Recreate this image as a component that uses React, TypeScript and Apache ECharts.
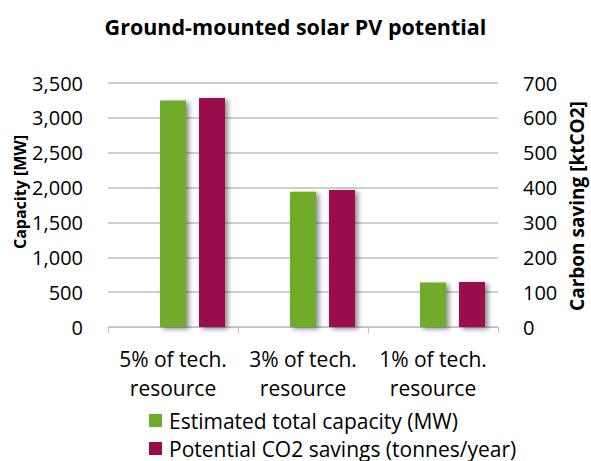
import React, { useEffect, useRef } from "react";
import * as echarts from "echarts";

const categories = ["5% of tech.\nresource", "3% of tech.\nresource", "1% of tech.\nresource"];
const capacityMW = [3250, 1940, 640];
const co2Savings = [657, 393, 129];
const leftTicks = [0, 3500, 500];
const rightTicks = [0, 700, 100];
const seriesNames = ["Estimated total capacity (MW)", "Potential CO2 savings (tonnes/year)"];

const FONT = "'Open Sans', sans-serif";

export default function App() {
  const ref = useRef<HTMLDivElement>(null);
  useEffect(() => {
    document.body.style.margin = "0";
    const chart = echarts.init(ref.current!, null, { renderer: "svg" });
    const shadow = {
      shadowColor: "rgba(0,0,0,0.45)",
      shadowBlur: 5,
      shadowOffsetX: 3,
      shadowOffsetY: 2,
    };
    const legendBase = {
      orient: "horizontal",
      left: 149,
      padding: 0,
      icon: "rect",
      itemWidth: 13,
      itemHeight: 13,
      textStyle: { fontFamily: FONT, fontSize: 21, color: "#000", padding: [0, 0, 0, 2] },
    };
    chart.setOption({
      animation: false,
      backgroundColor: "#ffffff",
      textStyle: { fontFamily: FONT },
      title: {
        text: "Ground-mounted solar PV potential",
        left: "center",
        top: 10,
        textStyle: { fontFamily: FONT, fontSize: 21.5, fontWeight: "bold", color: "#000" },
      },
      grid: { left: 108, right: 93, top: 83, bottom: 134 },
      legend: [
        { ...legendBase, top: 410, data: [seriesNames[0]] },
        { ...legendBase, top: 438, data: [seriesNames[1]] },
      ],
      xAxis: [
        {
          type: "category",
          data: categories,
          axisLine: { lineStyle: { color: "#bfbfbf", width: 1 } },
          axisTick: { show: true, length: 6, lineStyle: { color: "#bfbfbf" } },
          axisLabel: {
            color: "#000",
            fontFamily: FONT,
            fontSize: 21,
            lineHeight: 29,
            margin: 17,
            interval: 0,
          },
        },
        {
          type: "category",
          data: categories,
          show: false,
        },
      ],
      yAxis: [
        {
          type: "value",
          min: leftTicks[0],
          max: leftTicks[1],
          interval: leftTicks[2],
          axisLine: { show: false },
          axisTick: { show: false },
          splitLine: { lineStyle: { color: "#bfbfbf", width: 1.5 } },
          axisLabel: {
            color: "#000",
            fontFamily: FONT,
            fontSize: 20,
            margin: 25,
            formatter: (v: number) => v.toLocaleString("en-US"),
          },
        },
        {
          type: "value",
          min: rightTicks[0],
          max: rightTicks[1],
          interval: rightTicks[2],
          axisLine: { show: false },
          axisTick: { show: false },
          splitLine: { show: false },
          axisLabel: {
            color: "#000",
            fontFamily: FONT,
            fontSize: 20,
            margin: 25,
          },
        },
      ],
      graphic: [
        {
          type: "text",
          x: 20,
          y: 192,
          rotation: Math.PI / 2,
          style: {
            text: "Capacity [MW]",
            fontFamily: FONT,
            fontSize: 16,
            fontWeight: "bold",
            fill: "#000",
            align: "center",
            verticalAlign: "middle",
          },
        },
        {
          type: "text",
          x: 577,
          y: 206,
          rotation: Math.PI / 2,
          style: {
            text: "Carbon saving [ktCO2]",
            fontFamily: FONT,
            fontSize: 19,
            fontWeight: "bold",
            fill: "#000",
            align: "center",
            verticalAlign: "middle",
          },
        },
      ],
      series: [
        {
          name: seriesNames[0],
          type: "bar",
          xAxisIndex: 0,
          yAxisIndex: 0,
          barWidth: 26,
          data: capacityMW,
          itemStyle: { color: "#6FAC2C", ...shadow },
        },
        {
          name: "spacer",
          type: "bar",
          xAxisIndex: 1,
          yAxisIndex: 1,
          barWidth: 26,
          barGap: "200%",
          data: [null, null, null],
          silent: true,
          itemStyle: { color: "transparent" },
        },
        {
          name: seriesNames[1],
          type: "bar",
          xAxisIndex: 1,
          yAxisIndex: 1,
          barWidth: 26,
          barGap: "200%",
          data: co2Savings,
          itemStyle: { color: "#9C0A4E", ...shadow },
        },
      ],
    });
    return () => chart.dispose();
  }, []);
  return <div ref={ref} style={{ width: 591, height: 461 }} />;
}
